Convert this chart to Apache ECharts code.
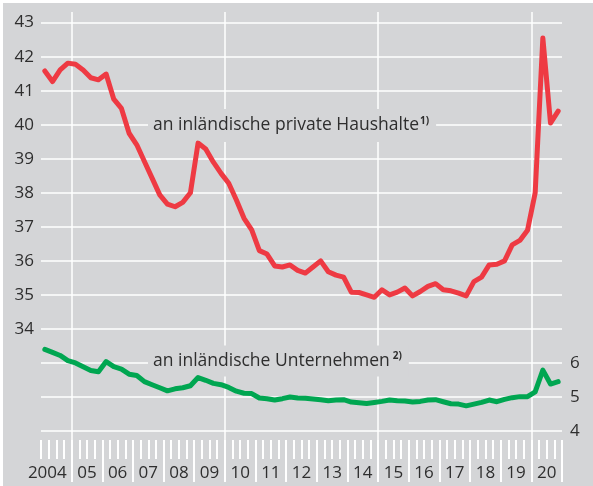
<!DOCTYPE html>
<html><head><meta charset="utf-8">
<script src="https://cdn.jsdelivr.net/npm/echarts@6/dist/echarts.min.js"></script>
<style>
html,body{margin:0;padding:0;background:#ffffff;width:593px;height:486px;overflow:hidden}
#c{position:absolute;left:3px;top:3px;width:590px;height:483px}
</style>
</head><body><div id="c"></div>
<script>
const quarters = [
 '2004Q1','2004Q2','2004Q3','2004Q4','2005Q1','2005Q2','2005Q3','2005Q4',
 '2006Q1','2006Q2','2006Q3','2006Q4','2007Q1','2007Q2','2007Q3','2007Q4',
 '2008Q1','2008Q2','2008Q3','2008Q4','2009Q1','2009Q2','2009Q3','2009Q4',
 '2010Q1','2010Q2','2010Q3','2010Q4','2011Q1','2011Q2','2011Q3','2011Q4',
 '2012Q1','2012Q2','2012Q3','2012Q4','2013Q1','2013Q2','2013Q3','2013Q4',
 '2014Q1','2014Q2','2014Q3','2014Q4','2015Q1','2015Q2','2015Q3','2015Q4',
 '2016Q1','2016Q2','2016Q3','2016Q4','2017Q1','2017Q2','2017Q3','2017Q4',
 '2018Q1','2018Q2','2018Q3','2018Q4','2019Q1','2019Q2','2019Q3','2019Q4',
 '2020Q1','2020Q2','2020Q3','2020Q4'
];
const yearBoundaries = ['2004','2005','2006','2007','2008','2009','2010','2011','2012',
 '2013','2014','2015','2016','2017','2018','2019','2020','2021'];
const yearLabels = ['2004','05','06','07','08','09','10','11','12','13','14','15','16','17','18','19','20'];
const leftTickLabels = ['34','35','36','37','38','39','40','41','42','43'];
const rightTickLabels = ['4','5','6'];

const households = [
 41.58, 41.27, 41.61, 41.81, 41.78, 41.61, 41.38, 41.32, 41.49, 40.75,
 40.48, 39.75, 39.41, 38.92, 38.43, 37.94, 37.67, 37.59, 37.72, 38.00,
 39.46, 39.29, 38.90, 38.57, 38.28, 37.79, 37.25, 36.91, 36.30, 36.20,
 35.85, 35.82, 35.88, 35.72, 35.64, 35.82, 36.00, 35.68, 35.58, 35.52,
 35.08, 35.07, 35.00, 34.93, 35.15, 35.00, 35.08, 35.20, 34.97, 35.10,
 35.25, 35.33, 35.15, 35.12, 35.05, 34.97, 35.39, 35.52, 35.88, 35.90,
 36.00, 36.47, 36.60, 36.90, 38.00, 42.55, 40.05, 40.40
];
const companies = [
 6.40, 6.31, 6.22, 6.07, 6.00, 5.89, 5.78, 5.74, 6.04, 5.89,
 5.82, 5.67, 5.63, 5.45, 5.36, 5.27, 5.18, 5.24, 5.27, 5.33,
 5.57, 5.49, 5.40, 5.36, 5.28, 5.17, 5.11, 5.10, 4.97, 4.95,
 4.91, 4.95, 5.00, 4.97, 4.96, 4.94, 4.92, 4.89, 4.91, 4.92,
 4.85, 4.83, 4.81, 4.84, 4.87, 4.91, 4.89, 4.88, 4.85, 4.87,
 4.91, 4.92, 4.86, 4.80, 4.79, 4.74, 4.79, 4.84, 4.91, 4.86,
 4.93, 4.98, 5.01, 5.01, 5.15, 5.79, 5.38, 5.45
];
const seriesNames = ['an inländische private Haushalte', 'an inländische Unternehmen'];
const footnotes = ['1)', '2)'];

const BG = '#d4d5d7', GRID = '#ffffff', TXT = '#2e2e2e';
const FONT = '"Open Sans", "Noto Sans", sans-serif';
const isInt = v => Math.abs(v - Math.round(v)) < 1e-6;

const chart = echarts.init(document.getElementById('c'), null, {renderer: 'canvas'});
const option = {
  backgroundColor: BG,
  animation: false,
  grid: {left: 38, top: 9, width: 521, height: 419, containLabel: false},
  xAxis: [
    {type: 'category', data: quarters, boundaryGap: true, position: 'bottom', offset: 9,
     axisLine: {show: false},
     axisTick: {show: true, interval: 0, length: 19, lineStyle: {color: GRID, width: 2}},
     axisLabel: {show: false}, splitLine: {show: false}},
    {type: 'category', data: yearBoundaries, boundaryGap: false, position: 'bottom', offset: 9,
     axisLine: {show: false},
     axisTick: {show: true, interval: (i) => i > 0, length: 42, lineStyle: {color: GRID, width: 2}},
     axisLabel: {show: false},
     splitLine: {show: true, interval: (i) => i % 5 === 1, lineStyle: {color: GRID, width: 1.5}}},
    {type: 'category', data: yearBoundaries, boundaryGap: false, position: 'bottom', offset: 0,
     axisLine: {show: false},
     axisTick: {show: true, interval: (i) => i % 5 === 1, length: 50, lineStyle: {color: GRID, width: 1.5}},
     axisLabel: {show: false}, splitLine: {show: false}},
    {type: 'category', data: yearLabels, boundaryGap: true, position: 'bottom', offset: 9,
     axisLine: {show: false}, axisTick: {show: false}, splitLine: {show: false},
     axisLabel: {show: true, interval: 0, margin: 25, color: TXT, fontFamily: FONT, fontSize: 17,
       formatter: (v, i) => i === 0 ? '{a|' + v + '}' : v,
       rich: {a: {padding: [0, 18, 0, 0], fontSize: 17, fontFamily: FONT, color: TXT}}}}
  ],
  yAxis: [
    {type: 'value', min: 31, max: 43.313, interval: 1, position: 'left',
     axisLine: {show: false}, axisTick: {show: false},
     axisLabel: {color: TXT, fontFamily: FONT, fontSize: 17, margin: 7, showMaxLabel: false,
       formatter: (v) => (isInt(v) && leftTickLabels.indexOf(String(Math.round(v))) >= 0) ? String(Math.round(v)) : ''},
     splitLine: {show: true, showMaxLine: false, lineStyle: {color: GRID, width: 1.5}}},
    {type: 'value', min: 4, max: 16.313, interval: 1, position: 'right',
     axisLine: {show: false}, axisTick: {show: false},
     axisLabel: {color: TXT, fontFamily: FONT, fontSize: 17, margin: 8, showMaxLabel: false,
       formatter: (v) => (isInt(v) && rightTickLabels.indexOf(String(Math.round(v))) >= 0) ? String(Math.round(v)) : ''},
     splitLine: {show: false}}
  ],
  graphic: [
    {type: 'text', z: 3, style: {
      x: 145, y: 122.5, text: seriesNames[0] + '{s|' + footnotes[0] + '}',
      font: '17.5px ' + FONT, fill: TXT, backgroundColor: BG, padding: [7, 7, 7, 5],
      align: 'left', verticalAlign: 'middle',
      rich: {s: {fontSize: 10, fontWeight: 'bold', fontFamily: FONT, fill: TXT, padding: [0, 0, 9, 1]}}}},
    {type: 'text', z: 3, style: {
      x: 145, y: 358, text: seriesNames[1] + '{s|' + footnotes[1] + '}',
      font: '17.5px ' + FONT, fill: TXT, backgroundColor: BG, padding: [6, 7, 6, 5],
      align: 'left', verticalAlign: 'middle',
      rich: {s: {fontSize: 10, fontWeight: 'bold', fontFamily: FONT, fill: TXT, padding: [0, 0, 9, 3]}}}}
  ],
  series: [
    {type: 'line', name: seriesNames[0], data: households, xAxisIndex: 0, yAxisIndex: 0,
     showSymbol: false, symbol: 'none', z: 5,
     lineStyle: {color: '#ee3a43', width: 5, join: 'round', cap: 'round'}, itemStyle: {color: '#ee3a43'}},
    {type: 'line', name: seriesNames[1], data: companies, xAxisIndex: 0, yAxisIndex: 1,
     showSymbol: false, symbol: 'none', z: 5,
     lineStyle: {color: '#00a651', width: 5, join: 'round', cap: 'round'}, itemStyle: {color: '#00a651'}}
  ]
};
chart.setOption(option);
</script>
</body></html>
